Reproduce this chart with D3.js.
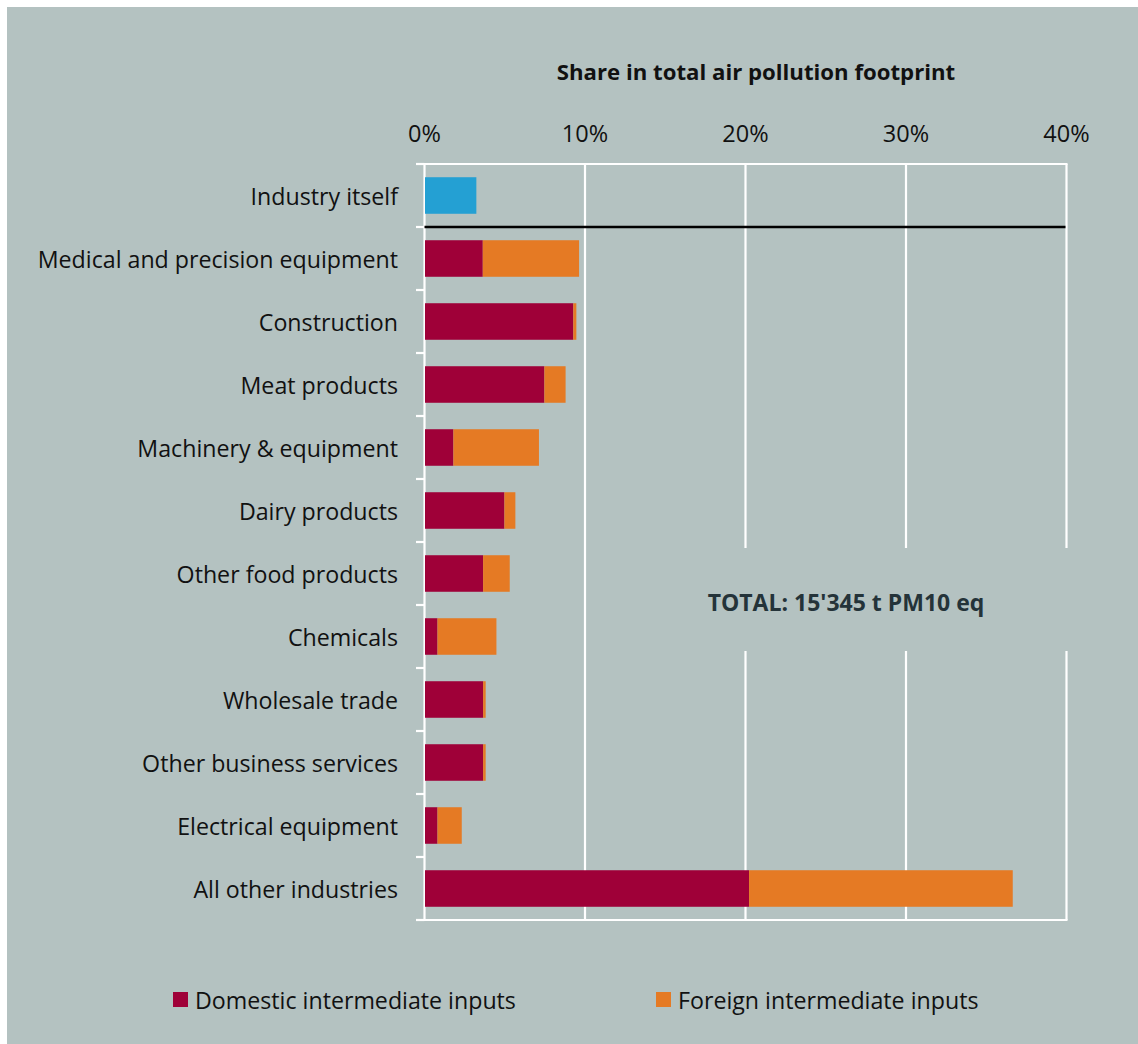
<!DOCTYPE html>
<html>
<head>
<meta charset="utf-8">
<script src="https://cdn.jsdelivr.net/npm/d3@7"></script>
<style>
  html, body { margin: 0; padding: 0; background: #ffffff; }
  svg { display: block; }
  text { font-family: "Open Sans", "Noto Sans", sans-serif; }
</style>
</head>
<body>
<svg id="chart" width="1138" height="1044"></svg>
<script>
// ---- data ----
const topCategory = "Industry itself";
const industryItself = [3.2];
const categories = [
  "Medical and precision equipment",
  "Construction",
  "Meat products",
  "Machinery & equipment",
  "Dairy products",
  "Other food products",
  "Chemicals",
  "Wholesale trade",
  "Other business services",
  "Electrical equipment",
  "All other industries"
];
const domestic = [3.6, 9.24, 7.44, 1.77, 4.95, 3.62, 0.78, 3.62, 3.62, 0.78, 20.19];
const foreign  = [6.0, 0.19, 1.32, 5.33, 0.68, 1.66, 3.67, 0.16, 0.16, 1.51, 16.43];
const xTicks = [0, 10, 20, 30, 40];
const seriesNames = ["Domestic intermediate inputs", "Foreign intermediate inputs"];
const chartTitle = "Share in total air pollution footprint";
const totalNote = "TOTAL: 15'345 t PM10 eq";

// ---- styles ----
const BG = "#b4c2c1";
const C_DOM = "#9f0038";
const C_FOR = "#e57a24";
const C_SELF = "#24a0d3";

const svg = d3.select("#chart");
svg.append("rect").attr("x", 7).attr("y", 7).attr("width", 1131).attr("height", 1037).attr("fill", BG);

const allCats = [topCategory, ...categories];
const x = d3.scaleLinear().domain([0, 40]).range([424.5, 1066.5]);
const y = d3.scaleBand().domain(allCats).range([164, 920]).paddingInner(0.42).paddingOuter(0.21);

// gridlines
const g = svg.append("g");
g.selectAll("line.grid").data(xTicks).join("line")
  .attr("x1", d => x(d)).attr("x2", d => x(d))
  .attr("y1", y.range()[0]).attr("y2", y.range()[1])
  .attr("stroke", "#fff").attr("stroke-width", 2.2);
// top / bottom white lines
[y.range()[0], y.range()[1]].forEach(v => {
  g.append("line").attr("x1", 416).attr("x2", x(40) + 1).attr("y1", v).attr("y2", v)
    .attr("stroke", "#fff").attr("stroke-width", 2.2);
});
// y-axis ticks at band boundaries
const step = y.step();
const bounds = d3.range(allCats.length + 1).map(i => y.range()[0] + i * step);
g.selectAll("line.ytick").data(bounds).join("line")
  .attr("x1", 416).attr("x2", x(0))
  .attr("y1", d => d).attr("y2", d => d)
  .attr("stroke", "#fff").attr("stroke-width", 2.2);

// mask behind total note
svg.append("rect").attr("x", 700).attr("y", 548).attr("width", 380).attr("height", 103).attr("fill", BG);

// bars
const bars = svg.append("g");
bars.selectAll("rect.self").data(industryItself).join("rect")
  .attr("x", x(0) + 0.5).attr("y", y(topCategory))
  .attr("width", d => x(d) - x(0)).attr("height", y.bandwidth())
  .attr("fill", C_SELF);

const rows = categories.map((c, i) => ({ c, d: domestic[i], f: foreign[i] }));
bars.selectAll("rect.dom").data(rows).join("rect")
  .attr("x", x(0) + 0.5).attr("y", r => y(r.c))
  .attr("width", r => x(r.d) - x(0)).attr("height", y.bandwidth())
  .attr("fill", C_DOM);
bars.selectAll("rect.for").data(rows).join("rect")
  .attr("x", r => x(r.d) + 0.5).attr("y", r => y(r.c))
  .attr("width", r => x(r.d + r.f) - x(r.d)).attr("height", y.bandwidth())
  .attr("fill", C_FOR);

// separator black line
const sepY = y.range()[0] + step;
svg.append("line").attr("x1", x(0)).attr("x2", x(40) - 1).attr("y1", sepY).attr("y2", sepY)
  .attr("stroke", "#000").attr("stroke-width", 2.5);

// category labels
svg.append("g").selectAll("text").data(allCats).join("text")
  .attr("x", 398).attr("y", d => y(d) + y.bandwidth() / 2)
  .attr("dy", "0.4em").attr("text-anchor", "end")
  .attr("font-size", 23.2).attr("fill", "#111")
  .text(d => d);

// x tick labels
svg.append("g").selectAll("text").data(xTicks).join("text")
  .attr("x", d => x(d)).attr("y", 142).attr("text-anchor", "middle")
  .attr("font-size", 23.5).attr("fill", "#111")
  .text(d => d + "%");

// title
svg.append("text").attr("x", 756).attr("y", 80).attr("text-anchor", "middle")
  .attr("font-size", 22.2).attr("font-weight", "bold").attr("fill", "#111")
  .text(chartTitle);

// total note
svg.append("text").attr("x", 846).attr("y", 611).attr("text-anchor", "middle")
  .attr("font-size", 23).attr("font-weight", "bold").attr("fill", "#243339")
  .text(totalNote);

// legend
const legend = svg.append("g");
const legendPos = [173, 656];
const legendCols = [C_DOM, C_FOR];
seriesNames.forEach((s, i) => {
  legend.append("rect").attr("x", legendPos[i]).attr("y", 992).attr("width", 15).attr("height", 15).attr("fill", legendCols[i]);
  legend.append("text").attr("x", legendPos[i] + 22).attr("y", 1009)
    .attr("font-size", 23.2).attr("fill", "#111").text(s);
});
</script>
</body>
</html>
